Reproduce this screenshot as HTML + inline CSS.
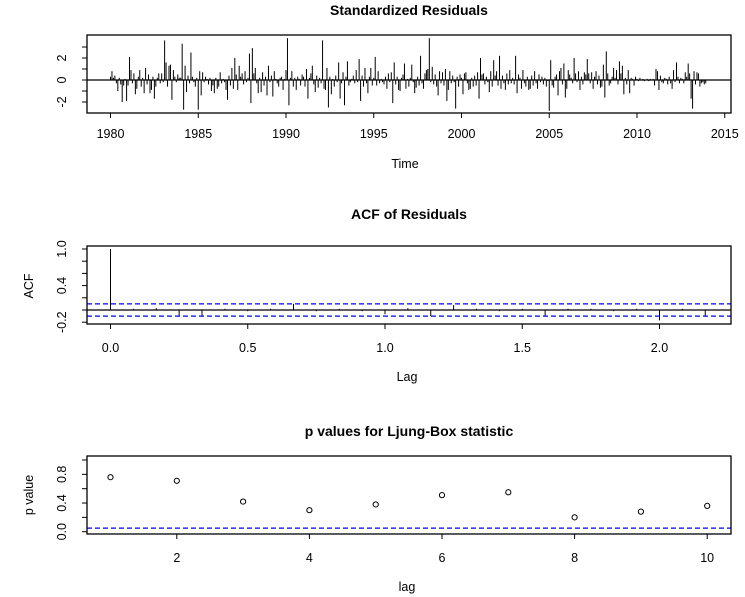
<!DOCTYPE html>
<html><head><meta charset="utf-8"><style>
html,body{margin:0;padding:0;background:#fff;}
svg{display:block;font-family:"Liberation Sans",Arial,sans-serif;}
.t{font-weight:bold;font-size:14px;}
.l{font-size:12.5px;}
</style></head><body>
<svg id="c" width="745" height="597" viewBox="0 0 745 597"></svg>
<script>
const residYears = [1980,1981,1982,1983,1984,1985,1986,1987,1988,1989,1990,1991,1992,1993,1994,1995,1996,1997,1998,1999,2000,2001,2002,2003,2004,2005,2006,2007,2008,2009,2010,2011,2012,2013];
const residValues = [
[0.3,0.8,0.2,0.4,-0.3,-1.0,0.2,-0.4,-2.0,-0.5,0.1,-1.9],
[-0.5,2.1,0.9,-0.3,0.6,-1.3,-0.8,0.3,0.9,-0.6,0.2,-1.2],
[1.1,-0.4,0.5,-1.2,-0.9,0.3,-1.7,-0.6,0.2,0.6,-0.3,0.6],
[-0.2,3.6,1.6,-0.6,1.3,1.4,-1.8,0.9,0.3,-0.2,0.5,0.2],
[0.2,3.3,-2.7,1.3,-1.1,0.4,-0.3,2.5,0.3,-0.2,-0.6,0.2],
[-2.7,0.8,-1.4,0.7,-0.2,0.3,0.1,-0.4,0.2,-1.0,-0.5,-1.2],
[0.2,-0.8,-0.6,0.7,-0.3,0.1,-0.2,-0.9,-1.8,0.4,-0.5,1.1],
[-0.8,2.0,0.5,-0.9,1.3,0.3,0.6,-0.4,0.8,-0.2,0.2,2.4],
[-2.1,2.9,0.6,1.1,-0.3,-1.2,0.2,-1.1,0.7,-0.5,0.3,-1.4],
[1.3,-0.2,0.4,-1.5,0.8,0.1,-0.3,-0.6,0.2,0.3,-0.9,0.1],
[0.9,3.8,-2.3,0.2,0.8,-0.6,0.2,-0.9,0.3,0.1,-0.5,0.5],
[0.3,-0.6,1.0,-1.7,0.2,0.6,1.3,-0.4,-1.1,0.4,-0.7,0.2],
[-0.3,3.6,-0.8,-0.9,1.1,-2.5,0.3,-1.3,0.1,-0.6,0.4,-0.2],
[1.6,-1.7,-0.3,0.7,-2.3,0.3,1.7,-0.5,-0.2,0.1,0.4,-0.3],
[0.9,-0.2,1.9,-1.9,0.4,-0.6,1.1,-0.3,-1.2,0.3,1.1,-0.5],
[0.2,2.1,-0.5,0.8,-0.3,0.1,-0.2,-0.4,0.3,-0.8,0.6,-0.2],
[0.7,-2.1,1.6,-0.4,0.3,-0.9,-1.0,0.2,0.5,1.5,-0.8,0.1],
[-0.6,0.2,1.4,-0.2,-1.2,-0.7,0.3,-0.5,2.2,-0.3,-0.8,0.6],
[0.9,1.0,3.8,-0.2,1.2,-0.4,0.5,-0.6,-1.4,0.8,-0.3,0.7],
[-0.5,1.0,-1.9,-0.9,0.8,-0.3,0.4,-0.2,-2.6,0.3,-0.6,0.5],
[0.2,-1.3,0.6,0.7,-0.3,-0.9,-0.8,0.2,-0.6,0.4,-0.5,0.7],
[-1.7,2.0,0.5,0.6,-0.4,0.3,-0.2,-1.1,0.8,-0.6,1.8,0.4],
[0.8,-0.5,2.2,-0.8,0.4,-0.3,-0.9,0.6,-0.4,0.9,-0.3,0.2],
[-0.4,2.2,-1.2,0.5,0.2,-0.8,0.9,-0.3,-0.6,0.3,-0.9,-0.8],
[0.4,-0.5,0.8,-0.3,-0.8,0.5,-0.2,0.3,-0.4,0.2,-0.6,-0.1],
[-2.8,1.8,-0.5,-0.7,0.3,0.5,-1.4,0.8,1.1,-0.4,1.5,-1.6],
[-0.8,0.9,0.5,0.2,-0.3,2.0,0.6,-0.2,0.8,-0.9,0.3,-0.4],
[0.7,0.5,1.9,0.6,-0.3,0.7,-0.8,0.3,0.8,-0.4,0.4,-0.7],
[-0.6,1.4,-1.6,2.6,0.6,-0.5,-0.3,0.3,1.1,0.2,0.9,-0.4],
[1.7,0.6,1.3,-1.3,0.2,-0.4,0.9,-1.2,0.2,0.1,-0.5,0.3],
[0.1,-0.1,0.2,0.0,0.1,-0.1,0.0,0.1,-0.1,0.1,0.0,0.1],
[-0.5,1.0,0.8,-0.9,0.4,-0.2,-0.3,0.2,0.1,-0.4,0.3,-0.3],
[-0.8,0.9,-0.2,1.6,0.3,-0.3,0.2,0.1,-0.3,0.7,0.3,1.5],
[0.6,-1.7,-2.6,0.8,-0.4,0.7,0.6,-0.6,-0.3,-0.2,-0.4,-0.3]
];
const residXTicks = [1980,1985,1990,1995,2000,2005,2010,2015];
const residYTicks = [-2,-1,0,1,2,3];
const residYLabels = [-2,0,2];
const acfValues = [1,0.02,0.03,-0.1,-0.1,0.02,-0.02,0.02,0.1,-0.02,0.02,-0.02,-0.07,0.03,-0.1,0.08,0.02,-0.02,0.02,-0.1,0.02,0.02,-0.02,0.02,-0.17,0.02,-0.1];
const acfXTicks = [0,0.5,1.0,1.5,2.0];
const acfYTicks = [-0.2,0,0.2,0.4,0.6,0.8,1.0];
const acfYLabels = [-0.2,0.4,1.0];
const acfBound = 0.1;
const lbLags = [1,2,3,4,5,6,7,8,9,10];
const lbPValues = [0.76,0.71,0.42,0.30,0.38,0.51,0.55,0.20,0.28,0.36];
const lbXTicks = [2,4,6,8,10];
const lbYTicks = [0,0.2,0.4,0.6,0.8,1.0];
const lbYLabels = [0.0,0.4,0.8];
const lbLevel = 0.05;

const NS='http://www.w3.org/2000/svg';
const svg=document.getElementById('c');
function mk(tag,attrs,parent){const e=document.createElementNS(NS,tag);for(const k in attrs)e.setAttribute(k,attrs[k]);(parent||svg).appendChild(e);return e;}
function txt(s,x,y,cls,rot,parent){const e=mk('text',{x:x,y:y,'text-anchor':'middle',class:cls},parent);if(rot)e.setAttribute('transform','rotate(-90 '+x+' '+y+')');e.textContent=s;return e;}
const BL=87,BR=731;

// ===== Panel 1 =====
const g1=mk('g',{});


const x1=y=>110.5+(y-1980)*17.55, y1=v=>80-v*11;
let t=txt('Standardized Residuals',409,15,'t',false,g1);

residYears.forEach((yr,i)=>{residValues[i].forEach((v,m)=>{
  const x=x1(yr+m/12);
  const b=mk('line',{x1:x,x2:x,y1:y1(0),y2:y1(v),stroke:'#000','stroke-width':1},g1);
  
  
});});
mk('line',{x1:BL,x2:BR,y1:y1(0),y2:y1(0),stroke:'#000','stroke-width':1.3},g1);
let r=mk('rect',{x:BL,y:35,width:BR-BL,height:78,fill:'none',stroke:'#000','stroke-width':1.3},g1);

residXTicks.forEach(v=>{const x=x1(v);mk('line',{x1:x,x2:x,y1:113,y2:118,stroke:'#000'},g1);
  const e=txt(String(v),x,138,'l',false,g1);});
residYTicks.forEach(v=>mk('line',{x1:BL,x2:BL-5,y1:y1(v),y2:y1(v),stroke:'#000'},g1));
residYLabels.forEach(v=>{const e=txt(String(v),66,y1(v),'l',true,g1);});
t=txt('Time',405,168,'l',false,g1);

// ===== Panel 2 =====
const g2=mk('g',{});


const x2=l=>110.5+l*274.5, y2=v=>310-v*61;
t=txt('ACF of Residuals',409,219,'t',false,g2);
acfValues.forEach((v,k)=>{const x=x2(k/12);
  const b=mk('line',{x1:x,x2:x,y1:y2(0),y2:y2(v),stroke:'#000','stroke-width':1},g2);
  
  
});
mk('line',{x1:BL,x2:BR,y1:y2(0),y2:y2(0),stroke:'#000','stroke-width':1.3},g2);
[acfBound,-acfBound].forEach(v=>{const d=mk('line',{x1:BL,x2:BR,y1:y2(v),y2:y2(v),stroke:'#0000ff','stroke-width':1.2,'stroke-dasharray':'5,3'},g2);
  });
r=mk('rect',{x:BL,y:246,width:BR-BL,height:78,fill:'none',stroke:'#000','stroke-width':1.3},g2);

acfXTicks.forEach(v=>{const x=x2(v);mk('line',{x1:x,x2:x,y1:324,y2:329,stroke:'#000'},g2);
  const e=txt(v.toFixed(1),x,352,'l',false,g2);});
acfYTicks.forEach(v=>mk('line',{x1:BL,x2:BL-5,y1:y2(v),y2:y2(v),stroke:'#000'},g2));
acfYLabels.forEach(v=>{const e=txt(v.toFixed(1),66,y2(v),'l',true,g2);});
t=txt('Lag',407,381,'l',false,g2);
t=txt('ACF',33,286,'l',true,g2);

// ===== Panel 3 =====
const g3=mk('g',{});


const x3=l=>110.5+(l-1)*66.3, y3=v=>531.7-v*71.7;
t=txt('p values for Ljung-Box statistic',409,436,'t',false,g3);
const dl=mk('line',{x1:BL,x2:BR,y1:y3(lbLevel),y2:y3(lbLevel),stroke:'#0000ff','stroke-width':1.2,'stroke-dasharray':'5,3'},g3);

lbLags.forEach((l,i)=>{
  const c=mk('circle',{cx:x3(l),cy:y3(lbPValues[i]),r:2.6,fill:'none',stroke:'#000','stroke-width':1},g3);
  
  
});
r=mk('rect',{x:BL,y:456,width:BR-BL,height:78,fill:'none',stroke:'#000','stroke-width':1.3},g3);

lbXTicks.forEach(v=>{const x=x3(v);mk('line',{x1:x,x2:x,y1:534,y2:539,stroke:'#000'},g3);
  const e=txt(String(v),x,562,'l',false,g3);});
lbYTicks.forEach(v=>mk('line',{x1:BL,x2:BL-5,y1:y3(v),y2:y3(v),stroke:'#000'},g3));
lbYLabels.forEach(v=>{const e=txt(v.toFixed(1),66,y3(v),'l',true,g3);});
t=txt('lag',407,591,'l',false,g3);
t=txt('p value',33,495,'l',true,g3);
</script>
</body></html>
